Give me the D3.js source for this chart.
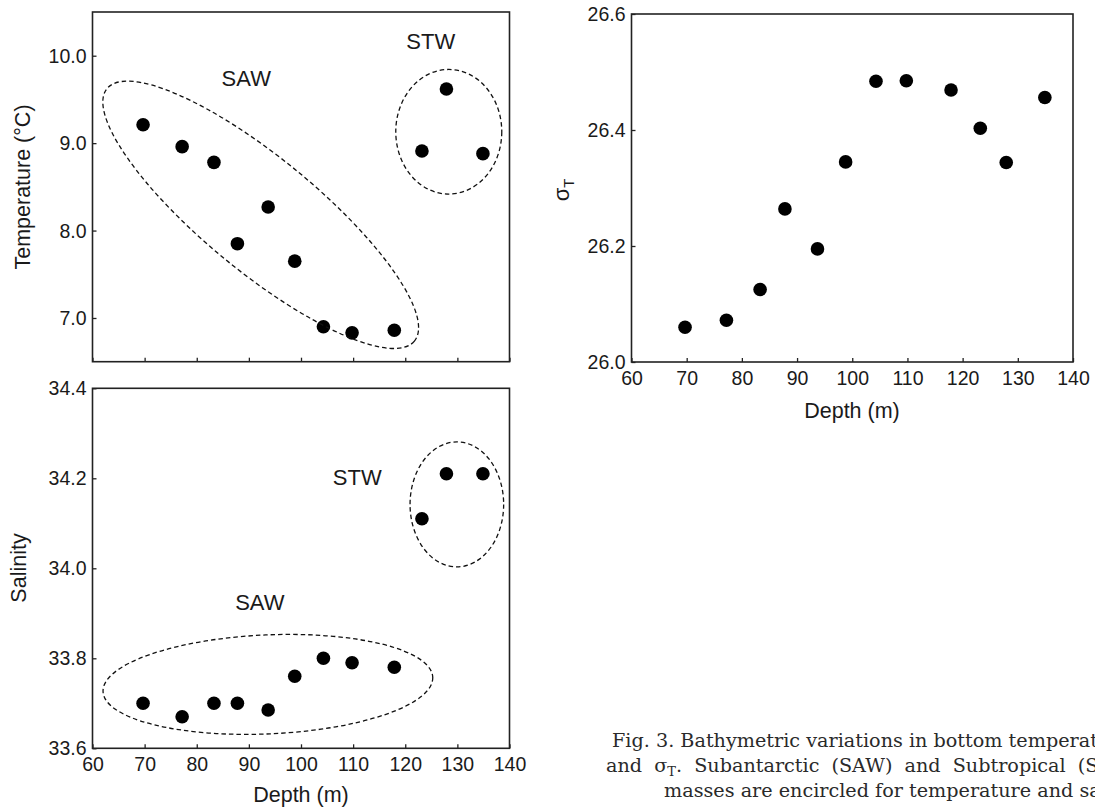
<!DOCTYPE html>
<html>
<head>
<meta charset="utf-8">
<script src="https://cdn.jsdelivr.net/npm/d3@7"></script>
<style>
  body { margin: 0; background: #fff; }
  svg { display: block; }
  .tick text { font-family: "Liberation Sans", Arial, sans-serif; font-size: 19.5px; fill: #1a1a1a; }
  .tick line { stroke: #222; stroke-width: 1.3; }
  .lab { font-family: "Liberation Sans", Arial, sans-serif; fill: #1a1a1a; }
  .caption { font-family: "DejaVu Serif", serif; font-size: 19.2px; fill: #2a2a2a; }
</style>
</head>
<body>
<div id="chart"></div>
<script>
// Data: stations by depth (m)
var depth = [69.7, 77.2, 83.3, 87.8, 93.7, 98.8, 104.3, 109.8, 117.9, 123.2, 127.9, 134.9];
var temperature = [9.21, 8.96, 8.78, 7.85, 8.27, 7.65, 6.90, 6.83, 6.86, 8.91, 9.62, 8.88];
var salinity = [33.70, 33.67, 33.70, 33.70, 33.685, 33.76, 33.80, 33.79, 33.78, 34.11, 34.21, 34.21];
var sigmaT = [26.06, 26.072, 26.125, 26.264, 26.195, 26.345, 26.484, 26.485, 26.469, 26.403, 26.344, 26.456];

var depthTicks = [60, 70, 80, 90, 100, 110, 120, 130, 140];
var tempTicks = [7, 8, 9, 10];
var salTicks = [33.6, 33.8, 34.0, 34.2, 34.4];
var sigmaTicks = [26.0, 26.2, 26.4, 26.6];

var svgWidth = 1095, svgHeight = 810;

var svg = d3.select("#chart")
    .append("svg")
    .attr("width", svgWidth)
    .attr("height", svgHeight);

// Build one framed scatter panel, returns the scales
function panel(opts) {
    var x = d3.scaleLinear().domain([60, 140]).range([opts.left, opts.right]);
    var y = d3.scaleLinear().domain(opts.yDomain).range([opts.bottom, opts.top]);

    var g = svg.append("g");

    // x axis, ticks pointing inward
    var xAxis = d3.axisBottom(x)
        .tickValues(depthTicks)
        .tickSizeInner(-4)
        .tickSizeOuter(0)
        .tickPadding(9)
        .tickFormat(opts.xLabels ? d3.format("d") : "");
    g.append("g")
        .attr("transform", `translate(0, ${opts.bottom})`)
        .call(xAxis)
        .call(a => a.select(".domain").remove());

    var yAxis = d3.axisLeft(y)
        .tickValues(opts.yTicks)
        .tickSizeInner(-4)
        .tickSizeOuter(0)
        .tickPadding(6)
        .tickFormat(d3.format(".1f"));
    g.append("g")
        .attr("transform", `translate(${opts.left}, 0)`)
        .call(yAxis)
        .call(a => a.select(".domain").remove())
        .selectAll("text").attr("dy", "0.34em");

    // frame
    g.append("rect")
        .attr("x", opts.left)
        .attr("y", opts.top)
        .attr("width", opts.right - opts.left)
        .attr("height", opts.bottom - opts.top)
        .attr("fill", "none")
        .attr("stroke", "#222")
        .attr("stroke-width", 1.6);

    // points
    g.selectAll("circle.pt")
        .data(d3.range(depth.length))
        .enter()
        .append("circle")
        .attr("class", "pt")
        .attr("cx", i => x(depth[i]))
        .attr("cy", i => y(opts.values[i]))
        .attr("r", 6.8)
        .attr("fill", "#000");

    return { x: x, y: y, g: g };
}

// water-mass ellipse, centre in data units, radii in px
function ring(p, cx, cy, rx, ry, rot) {
    p.g.append("ellipse")
        .attr("cx", 0).attr("cy", 0)
        .attr("rx", rx).attr("ry", ry)
        .attr("transform", `translate(${p.x(cx)}, ${p.y(cy)}) rotate(${rot})`)
        .attr("fill", "none")
        .attr("stroke", "#111")
        .attr("stroke-width", 1.3)
        .attr("stroke-dasharray", "4.5,3");
}

function massLabel(p, text, dx, dy) {
    p.g.append("text")
        .attr("class", "lab")
        .attr("x", p.x(dx))
        .attr("y", p.y(dy))
        .attr("text-anchor", "middle")
        .style("font-size", "22px")
        .text(text);
}

// Temperature panel
var tp = panel({ left: 92.5, right: 509.5, top: 12, bottom: 361.7,
    yDomain: [6.5, 10.5], yTicks: tempTicks, values: temperature, xLabels: false });
ring(tp, 92.27, 8.18, 198.9, 56.9, 39.4);
ring(tp, 128.35, 9.13, 53, 62.3, 0);
massLabel(tp, "SAW", 89.5, 9.65);
massLabel(tp, "STW", 124.9, 10.08);

svg.append("text")
    .attr("class", "lab")
    .attr("transform", "translate(29.5, 187) rotate(-90)")
    .attr("text-anchor", "middle")
    .style("font-size", "21.5px")
    .text("Temperature (°C)");

// Salinity panel
var sp = panel({ left: 92.5, right: 509.5, top: 388.3, bottom: 748.3,
    yDomain: [33.6, 34.4], yTicks: salTicks, values: salinity, xLabels: true });
ring(sp, 93.65, 33.742, 165, 49.5, -2.5);
ring(sp, 129.9, 34.142, 46.8, 62.5, 0);
massLabel(sp, "STW", 110.8, 34.185);
massLabel(sp, "SAW", 92.1, 33.908);

svg.append("text")
    .attr("class", "lab")
    .attr("transform", "translate(26, 568) rotate(-90)")
    .attr("text-anchor", "middle")
    .style("font-size", "21.5px")
    .text("Salinity");

svg.append("text")
    .attr("class", "lab")
    .attr("x", 301)
    .attr("y", 802)
    .attr("text-anchor", "middle")
    .style("font-size", "21.5px")
    .text("Depth (m)");

// Sigma-T panel
var rp = panel({ left: 631.5, right: 1073, top: 14, bottom: 362,
    yDomain: [26.0, 26.6], yTicks: sigmaTicks, values: sigmaT, xLabels: true });

var sigLab = svg.append("text")
    .attr("class", "lab")
    .attr("transform", "translate(568.5, 190) rotate(-90)")
    .attr("text-anchor", "middle")
    .style("font-size", "22px");
sigLab.append("tspan").text("σ");
sigLab.append("tspan")
    .attr("dy", 5)
    .style("font-size", "14.8px")
    .text("T");

svg.append("text")
    .attr("class", "lab")
    .attr("x", 852)
    .attr("y", 418)
    .attr("text-anchor", "middle")
    .style("font-size", "21.5px")
    .text("Depth (m)");

// Caption (runs off the right edge as in the original crop)
var cap = svg.append("g").attr("class", "caption");
cap.append("text").attr("x", 612).attr("y", 747)
    .text("Fig. 3. Bathymetric variations in bottom temperature, salinity");
var l2 = cap.append("text").attr("x", 606).attr("y", 772).style("word-spacing", "6px");
l2.append("tspan").text("and σ");
l2.append("tspan").attr("dy", 4).style("font-size", "13px").text("T");
l2.append("tspan").attr("dy", -4).text(". Subantarctic (SAW) and Subtropical (STW) water");
cap.append("text").attr("x", 664).attr("y", 797)
    .text("masses are encircled for temperature and salinity");
</script>
</body>
</html>
